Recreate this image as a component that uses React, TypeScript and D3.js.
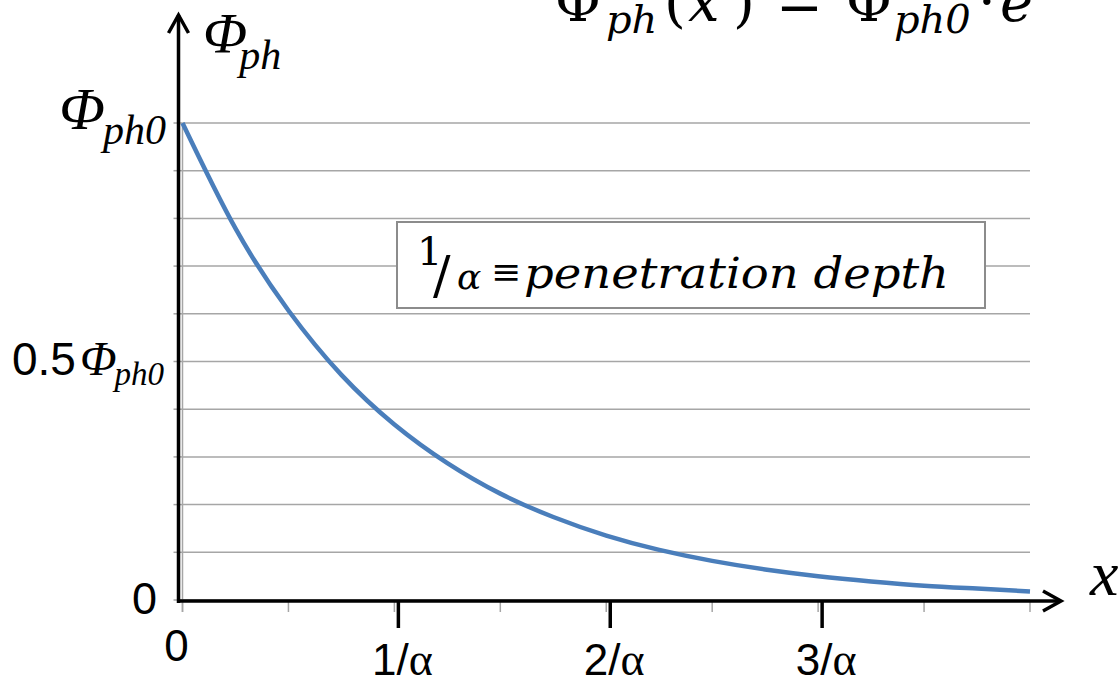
import * as d3 from "d3";

// depth in units of 1/alpha, flux relative to the surface value
const depth = [0, 0.25, 0.5, 0.75, 1, 1.25, 1.5, 1.75, 2, 2.25, 2.5, 2.75, 3, 3.25, 3.5, 3.75, 4];
const flux = [1, 0.779, 0.607, 0.472, 0.368, 0.287, 0.223, 0.174, 0.135, 0.105, 0.082, 0.064, 0.05, 0.039, 0.03, 0.024, 0.018];

const gridValues = [0, 0.1, 0.2, 0.3, 0.4, 0.5, 0.6, 0.7, 0.8, 0.9, 1];
const minorTicks = [0, 0.5, 1, 1.5, 2, 2.5, 3, 3.5, 4];
const majorTicks = [1, 2, 3];
const majorLabels = ["1", "2", "3"];

const W = 1118;
const H = 681;

const serif = "'Liberation Serif', 'Times New Roman', serif";
const mathFont = "'DejaVu Serif', serif";
const sans = "'Liberation Sans', Arial, sans-serif";

export default function App() {
    const x = d3.scaleLinear().domain([0, 4]).range([182.5, 1030]);
    const y = d3.scaleLinear().domain([0, 1]).range([600, 123]);

    const line = d3.line<number>()
        .x((d, i) => x(depth[i]))
        .y(d => y(d))
        .curve(d3.curveNatural);

    const x0 = x(0) - 4;   // black y axis sits just left of the chart axis
    const y0 = y(0) + 1;
    const xEnd = 1063;
    const yTop = 14;

    return (
        <div style={{ position: "absolute", left: 0, top: 0 }}>
            <svg width={W} height={H} style={{ display: "block", background: "#fff" }}>
                {/* horizontal gridlines */}
                {gridValues.map(v => (
                    <g key={"g" + v}>
                        <line x1={x(0)} x2={x(4)} y1={y(v)} y2={y(v)} stroke="#a6a6a6" strokeWidth={1.5} />
                        <line x1={x(0) - 9} x2={x(0)} y1={y(v)} y2={y(v)} stroke="#a6a6a6" strokeWidth={1.5} />
                    </g>
                ))}
                {/* chart's own gray axis */}
                <line x1={x(0)} x2={x(0)} y1={y(1)} y2={y(0) + 12} stroke="#a6a6a6" strokeWidth={1.5} />
                {minorTicks.map(t => (
                    <line key={"m" + t} x1={x(t)} x2={x(t)} y1={y(0)} y2={y(0) + 12} stroke="#a6a6a6" strokeWidth={1.5} />
                ))}

                {/* curve */}
                <path d={line(flux) || ""} fill="none" stroke="#4a7ebb" strokeWidth={4.5} />

                {/* black axes with arrows */}
                <g stroke="#000" strokeWidth={3.5} fill="none">
                    <line x1={x0} x2={x0} y1={y0 + 2} y2={yTop + 1} />
                    <polyline points={`${x0 - 10},${yTop + 19} ${x0},${yTop + 1} ${x0 + 10},${yTop + 19}`} />
                    <line x1={x0 - 1.5} x2={xEnd - 2} y1={y0} y2={y0} />
                    <polyline points={`${xEnd - 20},${y0 - 10} ${xEnd - 2},${y0} ${xEnd - 20},${y0 + 10}`} />
                    {majorTicks.map(t => (
                        <line key={"M" + t} x1={x(t) + 4} x2={x(t) + 4} y1={y0} y2={y0 + 27} />
                    ))}
                </g>

                {/* x tick labels */}
                <text x={x(0) - 6} y={661} fontFamily={sans} fontSize={44} textAnchor="middle">0</text>
                {majorTicks.map((t, i) => (
                    <text key={"l" + t} x={x(t) + 8} y={675} fontFamily={sans} fontSize={44} textAnchor="middle">
                        {majorLabels[i]}/<tspan fontFamily={serif} fontSize={46}>α</tspan>
                    </text>
                ))}

                {/* y tick labels */}
                <text x={157} y={y(0) + 14} fontFamily={sans} fontSize={45} textAnchor="end">0</text>
                <text x={166} y={y(1) + 6} fontFamily={serif} fontStyle="italic" textAnchor="end">
                    <tspan fontSize={60}>Φ</tspan>
                    <tspan fontSize={42} dy={15} dx={-2}>ph0</tspan>
                </text>
                <text x={164} y={y(0.5) + 13} textAnchor="end">
                    <tspan fontFamily={sans} fontSize={46}>0.5</tspan>
                    <tspan fontFamily={serif} fontStyle="italic" fontSize={48} dx={4}>Φ</tspan>
                    <tspan fontFamily={serif} fontStyle="italic" fontSize={33} dy={10} dx={-2}>ph0</tspan>
                </text>

                {/* axis titles */}
                <text x={203} y={53} fontFamily={serif} fontStyle="italic">
                    <tspan fontSize={58}>Φ</tspan>
                    <tspan fontSize={42} dy={16} dx={-8}>ph</tspan>
                </text>
                <text x={1090} y={595} fontFamily={serif} fontStyle="italic" fontSize={64}>x</text>

                {/* formula, cut off at the top */}
                <g fontFamily={mathFont}>
                    <text x={555} y={21} fontSize={56}>Φ</text>
                    <text x={606} y={33} fontSize={40} fontStyle="italic">ph</text>
                    <text x={664} y={21} fontSize={56}>(</text>
                    <text x={688} y={21} fontSize={56} fontStyle="italic">x</text>
                    <text x={733} y={21} fontSize={56}>)</text>
                    <text x={776} y={21} fontSize={56}>=</text>
                    <text x={846} y={21} fontSize={56}>Φ</text>
                    <text x={894} y={33} fontSize={40} fontStyle="italic">ph0</text>
                    <text x={978} y={21} fontSize={56}>·</text>
                    <text x={1000} y={21} fontSize={56} fontStyle="italic">e</text>
                </g>

                {/* annotation box */}
                <rect x={397} y={222} width={588} height={86} fill="#fff" stroke="#8c8c8c" strokeWidth={2} />
                <g fontFamily={mathFont}>
                    <text x={417} y={265} fontSize={40}>1</text>
                    <text x={433} y={293} fontSize={52}>/</text>
                    <text x={457} y={289} fontSize={36} fontStyle="italic">α</text>
                    <text x={491} y={284} fontSize={36}>≡</text>
                    <text x={524} y={288} fontSize={42} fontStyle="italic" textLength={425} lengthAdjust="spacingAndGlyphs">penetration depth</text>
                </g>
            </svg>
        </div>
    );
}
